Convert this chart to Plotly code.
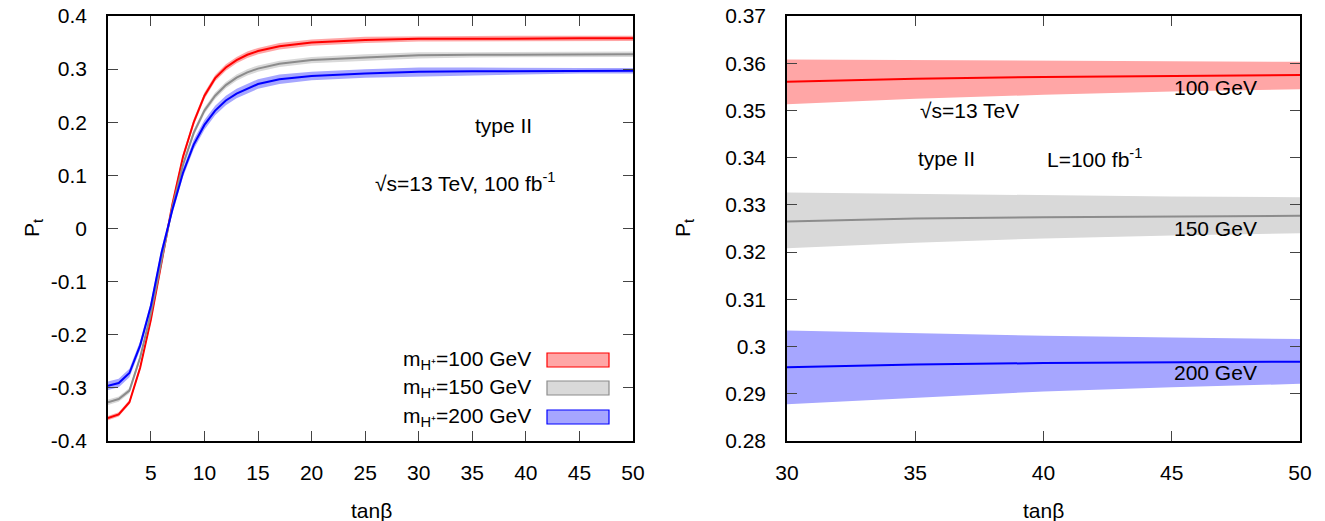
import plotly.graph_objects as go

# ---------------- data: left panel ----------------
tanb_full = [1, 2, 3, 4, 5, 6, 7, 8, 9, 10, 11, 12, 13, 14, 15, 17, 20, 25, 30, 35, 40, 45, 50]
p100 = [-0.357, -0.350, -0.327, -0.262, -0.172, -0.065, 0.045, 0.135, 0.200, 0.250, 0.283, 0.303,
        0.317, 0.327, 0.334, 0.343, 0.350, 0.355, 0.357, 0.357, 0.358, 0.358, 0.358]
p150 = [-0.327, -0.321, -0.305, -0.243, -0.160, -0.058, 0.040, 0.120, 0.180, 0.222, 0.250, 0.270,
        0.284, 0.294, 0.301, 0.310, 0.317, 0.322, 0.326, 0.327, 0.327, 0.328, 0.328]
p200 = [-0.296, -0.291, -0.272, -0.220, -0.146, -0.045, 0.035, 0.105, 0.158, 0.195, 0.222, 0.241,
        0.254, 0.263, 0.272, 0.281, 0.287, 0.292, 0.295, 0.296, 0.296, 0.297, 0.297]
err100 = [0.004, 0.004, 0.004, 0.005, 0.005, 0.005, 0.006, 0.006, 0.006, 0.006, 0.006, 0.006,
          0.006, 0.006, 0.006, 0.006, 0.006, 0.006, 0.005, 0.005, 0.005, 0.005, 0.005]
err150 = [0.005, 0.005, 0.005, 0.006, 0.006, 0.006, 0.006, 0.006, 0.006, 0.006, 0.006, 0.006,
          0.006, 0.006, 0.006, 0.006, 0.006, 0.006, 0.006, 0.005, 0.005, 0.005, 0.005]
err200 = [0.008, 0.008, 0.008, 0.008, 0.008, 0.008, 0.008, 0.008, 0.009, 0.009, 0.009, 0.009,
          0.009, 0.009, 0.009, 0.009, 0.008, 0.008, 0.008, 0.007, 0.006, 0.005, 0.005]

# ---------------- data: right panel (zoom 30..50) ----------------
tanb_zoom = [30, 35, 40, 45, 50]
z100 = [0.3561, 0.3567, 0.3571, 0.3573, 0.3575]
z100_hi = [0.3608, 0.3607, 0.3605, 0.3604, 0.3603]
z100_lo = [0.3513, 0.3525, 0.3533, 0.3540, 0.3545]
z150 = [0.3265, 0.3271, 0.3274, 0.3276, 0.3277]
z150_hi = [0.3326, 0.3323, 0.3320, 0.3318, 0.3316]
z150_lo = [0.3208, 0.3220, 0.3229, 0.3235, 0.3240]
z200 = [0.2956, 0.2962, 0.2965, 0.2967, 0.2968]
z200_hi = [0.3034, 0.3028, 0.3023, 0.3019, 0.3016]
z200_lo = [0.2878, 0.2891, 0.2905, 0.2914, 0.2921]

labels = ["m<sub>H⁺</sub>=100 GeV", "m<sub>H⁺</sub>=150 GeV", "m<sub>H⁺</sub>=200 GeV"]
line_cols = ["#ff0000", "#8c8c8c", "#0000ff"]
band_cols = ["rgb(255,166,166)", "rgb(217,217,217)", "rgb(166,166,255)"]

FONT = "Liberation Sans, Arial, Helvetica, sans-serif"
FS = 21
W, H = 1325, 521
MT, MB = 16, 80
PH = H - MT - MB


def px(x):
    return x / W


def py(y):
    return (H - MB - y) / PH


fig = go.Figure()

left_series = [p100, p150, p200]
left_errs = [err100, err150, err200]
for vals, errs, bc in zip(left_series, left_errs, band_cols):
    up = [v + e for v, e in zip(vals, errs)]
    lo = [v - e for v, e in zip(vals, errs)]
    fig.add_trace(go.Scatter(x=tanb_full + tanb_full[::-1], y=up + lo[::-1], fill="toself",
                             fillcolor=bc, line=dict(width=0), mode="lines", hoverinfo="skip",
                             showlegend=False, xaxis="x", yaxis="y"))
for vals, lc in zip(left_series, line_cols):
    fig.add_trace(go.Scatter(x=tanb_full, y=vals, mode="lines", line=dict(color=lc, width=2),
                             showlegend=False, xaxis="x", yaxis="y"))

right = [(z100, z100_hi, z100_lo), (z150, z150_hi, z150_lo), (z200, z200_hi, z200_lo)]
for (c, hi, lo), bc in zip(right, band_cols):
    fig.add_trace(go.Scatter(x=tanb_zoom + tanb_zoom[::-1], y=hi + lo[::-1], fill="toself",
                             fillcolor=bc, line=dict(width=0), mode="lines", hoverinfo="skip",
                             showlegend=False, xaxis="x2", yaxis="y2"))
for (c, hi, lo), lc in zip(right, line_cols):
    fig.add_trace(go.Scatter(x=tanb_zoom, y=c, mode="lines", line=dict(color=lc, width=2),
                             showlegend=False, xaxis="x2", yaxis="y2"))

axis_common = dict(showline=True, linecolor="black", linewidth=1.5, mirror="allticks",
                   ticks="inside", ticklen=10, tickwidth=1.2, tickcolor="#444",
                   showgrid=False, zeroline=False, automargin=False,
                   tickfont=dict(family=FONT, size=FS, color="black"))

fig.update_layout(
    width=W, height=H, plot_bgcolor="white", paper_bgcolor="white",
    margin=dict(l=0, r=0, t=MT, b=MB, autoexpand=False),
    xaxis=dict(domain=[px(108), px(633)], range=[1, 50], tickvals=[5, 10, 15, 20, 25, 30, 35, 40, 45, 50],
               anchor="y", ticklabelstandoff=12, **axis_common),
    yaxis=dict(domain=[0, 1], range=[-0.4, 0.4], anchor="x", ticklabelstandoff=15,
               tickvals=[-0.4, -0.3, -0.2, -0.1, 0, 0.1, 0.2, 0.3, 0.4],
               ticktext=["-0.4", "-0.3", "-0.2", "-0.1", "0", "0.1", "0.2", "0.3", "0.4"],
               **axis_common),
    xaxis2=dict(domain=[px(787), px(1300)], range=[30, 50], tickvals=[30, 35, 40, 45, 50],
                anchor="y2", ticklabelstandoff=12, **axis_common),
    yaxis2=dict(domain=[0, 1], range=[0.28, 0.37], anchor="x2", ticklabelstandoff=15,
                tickvals=[0.28, 0.29, 0.30, 0.31, 0.32, 0.33, 0.34, 0.35, 0.36, 0.37],
                ticktext=["0.28", "0.29", "0.3", "0.31", "0.32", "0.33", "0.34", "0.35", "0.36", "0.37"],
                **axis_common),
)

ann = []


def add_text(text, x, y, xref="paper", yref="paper", xanchor="center", size=FS):
    ann.append(dict(text=text, x=x, y=y, xref=xref, yref=yref, xanchor=xanchor, yanchor="middle",
                    showarrow=False, font=dict(family=FONT, size=size, color="black")))


# axis titles
add_text("tanβ", px(371), py(510))
add_text("tanβ", px(1043), py(510))
ann.append(dict(text="P<sub>t</sub>", x=px(18), y=py(228), xref="paper", yref="paper", showarrow=False,
                textangle=-90, font=dict(family=FONT, size=FS, color="black")))
ann.append(dict(text="P<sub>t</sub>", x=px(684), y=py(228), xref="paper", yref="paper", showarrow=False,
                textangle=-90, font=dict(family=FONT, size=FS, color="black")))

# left panel texts
add_text("type II", 37.9, 0.193, "x", "y")
add_text("√s=13 TeV, 100 fb<sup>-1</sup>", 34.3, 0.087, "x", "y")

# right panel texts
add_text("100 GeV", 46.7, 0.3548, "x2", "y2")
add_text("150 GeV", 46.7, 0.3249, "x2", "y2")
add_text("200 GeV", 46.7, 0.2946, "x2", "y2")
add_text("√s=13 TeV", 37.1, 0.3499, "x2", "y2")
add_text("type II", 36.2, 0.3399, "x2", "y2")
add_text("L=100 fb<sup>-1</sup>", 42.0, 0.3399, "x2", "y2")

# manual legend
shapes = []
leg_y = [360, 388, 417]
for lab, yy, lc, bc in zip(labels, leg_y, line_cols, band_cols):
    add_text(lab, px(533), py(yy), xanchor="right")
    shapes.append(dict(type="rect", xref="paper", yref="paper", x0=px(547), x1=px(609),
                       y0=py(yy + 7), y1=py(yy - 7), fillcolor=bc, line=dict(color=lc, width=1.2)))

fig.update_layout(annotations=ann, shapes=shapes)
fig.write_html("out.html")
